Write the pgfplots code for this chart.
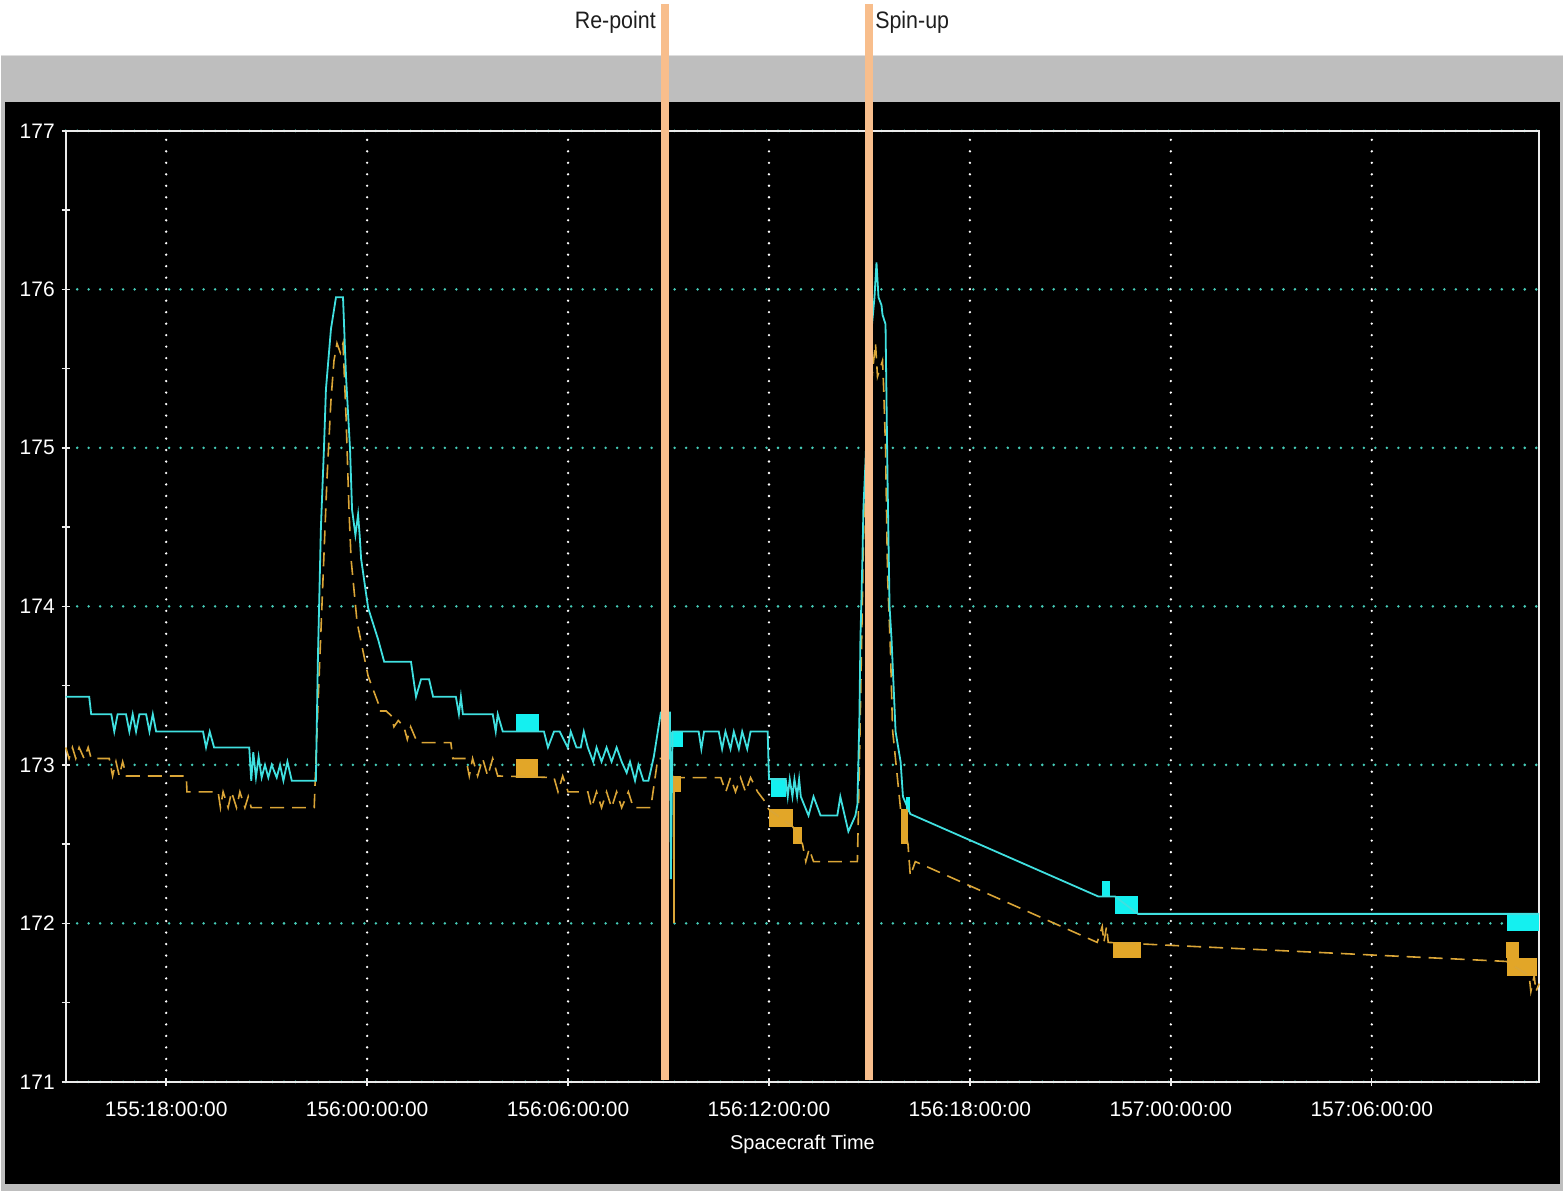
\documentclass[border=0pt]{standalone}
\usepackage{fontspec}
\setmainfont{Liberation Sans}
\usepackage{pgfplots}
\pgfplotsset{compat=1.18}
\definecolor{cyanl}{RGB}{64,224,224}
\definecolor{cyanb}{RGB}{20,240,240}
\definecolor{gold}{RGB}{218,165,55}
\definecolor{goldb}{RGB}{226,166,40}
\definecolor{gridteal}{RGB}{70,205,185}
\definecolor{framegray}{RGB}{190,190,190}
\definecolor{peach}{RGB}{248,190,140}
\definecolor{axwhite}{RGB}{235,235,235}

\begin{document}
\begin{tikzpicture}[x=1pt,y=1pt]
\fill[white] (0,0) rectangle (782,596);
\fill[framegray] (0,0) rectangle (782,568.5);
\draw[line width=0.8pt, color={rgb,255:red,222;green,222;blue,222}] (0,568.2) -- (782,568.2);
\fill[black] (2,3.5) rectangle (780.5,545);
\begin{axis}[at={(32.5pt,54.5pt)}, anchor=south west, scale only axis,
  width=737.5pt, height=476pt,
  xmin=15, xmax=59, ymin=171, ymax=177,
  xtick={18,24,30,36,42,48,54},
  xticklabels={155:18:00:00,156:00:00:00,156:06:00:00,156:12:00:00,156:18:00:00,157:00:00:00,157:06:00:00},
  ytick={171,172,173,174,175,176,177},
  minor ytick={171.5,172.5,173.5,174.5,175.5,176.5},
  tick pos=left, tick align=center,
  major tick length=4pt, minor tick length=4pt,
  tick style={axwhite, line width=0.7pt},
  axis line style={axwhite, line width=1pt},
  xmajorgrids, ymajorgrids,
  x grid style={white, line width=1.3pt, line cap=round, dash pattern=on 0pt off 5.75pt},
  y grid style={gridteal, line width=1.4pt, line cap=round, dash pattern=on 0pt off 5.75pt},
  ticklabel style={white, font=\fontsize{10.5}{12}\selectfont},
  xticklabel style={yshift=-4.5pt},
  /pgf/number format/assume math mode=true,
  xlabel={Spacecraft Time},
  xlabel style={white, font=\fontsize{10}{12}\selectfont, at={(axis description cs:0.5,0)}, anchor=center, yshift=-31.5pt},
  clip=false,
]
% cyan blocks
\addplot[fill=cyanb, draw=none] coordinates {(28.44,173.21)(29.13,173.21)(29.13,173.32)(28.44,173.32)};
\addplot[fill=cyanb, draw=none] coordinates {(33.07,173.11)(33.42,173.11)(33.42,173.21)(33.07,173.21)};
\addplot[fill=cyanb, draw=none] coordinates {(36.05,172.80)(36.50,172.80)(36.50,172.91)(36.05,172.91)};
\addplot[fill=cyanb, draw=none] coordinates {(40.08,172.70)(40.22,172.70)(40.22,172.80)(40.08,172.80)};
\addplot[fill=cyanb, draw=none] coordinates {(45.95,172.17)(46.19,172.17)(46.19,172.27)(45.95,172.27)};
\addplot[fill=cyanb, draw=none] coordinates {(46.33,172.06)(47.02,172.06)(47.02,172.17)(46.33,172.17)};
\addplot[fill=cyanb, draw=none] coordinates {(58.05,171.95)(59.00,171.95)(59.00,172.06)(58.05,172.06)};
% orange blocks
\addplot[fill=goldb, draw=none] coordinates {(28.44,172.92)(29.10,172.92)(29.10,173.04)(28.44,173.04)};
\addplot[fill=goldb, draw=none] coordinates {(33.07,172.83)(33.36,172.83)(33.36,172.93)(33.07,172.93)};
\addplot[fill=goldb, draw=none] coordinates {(35.99,172.61)(36.71,172.61)(36.71,172.72)(35.99,172.72)};
\addplot[fill=goldb, draw=none] coordinates {(36.71,172.50)(37.00,172.50)(37.00,172.61)(36.71,172.61)};
\addplot[fill=goldb, draw=none] coordinates {(39.93,172.50)(40.15,172.50)(40.15,172.72)(39.93,172.72)};
\addplot[fill=goldb, draw=none] coordinates {(46.27,171.78)(47.11,171.78)(47.11,171.88)(46.27,171.88)};
\addplot[fill=goldb, draw=none] coordinates {(58.00,171.78)(58.40,171.78)(58.40,171.88)(58.00,171.88)};
\addplot[fill=goldb, draw=none] coordinates {(58.05,171.67)(58.93,171.67)(58.93,171.78)(58.05,171.78)};
% orange series
\addplot[gold, line width=0.8pt, dash pattern=on 7pt off 4pt] coordinates {
(15.00,173.11)(15.10,173.04)(15.20,173.11)(15.30,173.04)(15.40,173.11)(15.55,173.04)(15.67,173.11)(15.76,173.04)
(16.30,173.04)(16.40,172.93)(16.50,173.02)(16.60,172.93)(16.70,173.02)(16.81,172.93)(18.60,172.93)(18.62,172.83)
(19.55,172.83)(19.62,172.73)(19.70,172.83)(19.85,172.73)(19.95,172.83)(20.10,172.73)(20.20,172.83)(20.35,172.73)
(20.45,172.80)(20.54,172.73)(22.42,172.73)(22.50,173.20)(22.65,174.00)(22.80,174.80)(22.92,175.30)(23.01,175.55)
(23.10,175.66)(23.20,175.60)(23.28,175.66)(23.37,175.20)(23.46,174.60)(23.52,174.30)(23.70,173.90)(24.03,173.56)
(24.33,173.39)(24.36,173.34)(24.57,173.34)(24.72,173.31)(24.80,173.24)(24.93,173.28)(25.10,173.24)(25.20,173.16)
(25.30,173.24)(25.46,173.16)(25.55,173.14)(26.50,173.14)(26.56,173.04)(26.95,173.04)(27.05,172.93)(27.15,173.04)
(27.30,172.93)(27.45,173.04)(27.60,172.93)(27.75,173.04)(27.90,172.93)(29.58,172.92)(29.70,172.83)(29.84,172.93)
(30.00,172.83)(30.59,172.83)(30.70,172.73)(30.85,172.83)(31.00,172.73)(31.15,172.83)(31.30,172.73)(31.45,172.83)
(31.60,172.73)(31.80,172.83)(31.95,172.73)(32.47,172.73)(32.68,173.04)(32.83,173.04)(33.10,172.93)(33.20,172.92)
(34.56,172.92)(34.71,172.83)(34.85,172.92)(35.00,172.83)(35.15,172.92)(35.30,172.83)(35.45,172.92)(35.66,172.83)
(35.84,172.78)(35.99,172.72)(36.71,172.61)(37.00,172.50)(37.10,172.39)(37.20,172.47)(37.33,172.39)(38.64,172.39)
(38.70,173.00)(38.76,173.70)(38.82,174.40)(38.90,175.00)(39.10,175.50)(39.18,175.66)(39.24,175.45)(39.39,175.55)
(39.42,175.40)(39.48,175.00)(39.54,174.20)(39.63,173.70)(39.69,173.22)(39.93,172.72)(40.15,172.50)(40.22,172.30)(40.37,172.39)
(45.80,171.88)(45.95,171.98)(46.00,171.88)(46.08,171.98)(46.13,171.88)(47.14,171.87)(58.02,171.76)(58.70,171.67)
(58.75,171.57)(58.85,171.67)(58.90,171.57)(59.00,171.62)};
\addplot[gold, line width=0.8pt] coordinates {(33.16,172.93)(33.16,172.00)};
% cyan series
\addplot[cyanl, line width=0.9pt] coordinates {
(15.00,173.43)(15.70,173.43)(15.76,173.32)(16.36,173.32)(16.45,173.21)(16.55,173.32)(16.80,173.32)(16.90,173.21)
(17.00,173.32)(17.10,173.21)(17.20,173.32)(17.40,173.32)(17.50,173.21)(17.60,173.32)(17.70,173.21)(19.10,173.21)
(19.19,173.11)(19.30,173.21)(19.43,173.11)(20.48,173.11)(20.54,172.90)(20.60,173.08)(20.68,172.92)(20.76,173.05)
(20.85,172.92)(20.95,173.00)(21.05,172.92)(21.15,173.00)(21.30,172.92)(21.40,173.00)(21.50,172.90)(21.62,173.02)
(21.75,172.90)(22.47,172.90)(22.53,173.67)(22.62,174.50)(22.71,174.99)(22.77,175.37)(22.92,175.75)(23.07,175.95)
(23.28,175.95)(23.37,175.45)(23.49,174.99)(23.55,174.61)(23.65,174.45)(23.73,174.58)(23.78,174.44)(23.82,174.30)
(24.03,173.99)(24.33,173.79)(24.51,173.65)(25.31,173.65)(25.46,173.43)(25.61,173.54)(25.85,173.54)(25.97,173.43)
(26.65,173.43)(26.74,173.32)(26.80,173.43)(26.86,173.32)(27.75,173.32)(27.84,173.21)(27.90,173.32)(28.05,173.21)
(29.28,173.21)(29.40,173.11)(29.58,173.21)(29.75,173.21)(29.99,173.11)(30.08,173.21)(30.25,173.11)(30.38,173.11)
(30.47,173.21)(30.59,173.11)(30.75,173.02)(30.85,173.11)(31.00,173.02)(31.15,173.11)(31.30,173.02)(31.45,173.11)
(31.60,173.02)(31.75,172.95)(31.85,173.02)(32.00,172.90)(32.10,173.00)(32.25,172.90)(32.40,172.90)(32.56,173.05)
(32.77,173.33)(33.04,173.33)(33.07,172.28)(33.12,173.21)(33.90,173.21)(33.98,173.10)(34.06,173.21)(34.50,173.21)
(34.60,173.10)(34.70,173.21)(34.85,173.10)(34.95,173.21)(35.10,173.10)(35.20,173.21)(35.35,173.10)(35.45,173.21)
(35.96,173.21)(36.00,172.91)(36.50,172.91)(36.56,172.80)(36.62,172.91)(36.70,172.80)(36.76,172.91)(36.84,172.80)
(36.90,172.91)(36.95,172.80)(37.18,172.68)(37.33,172.80)(37.54,172.68)(38.04,172.68)(38.13,172.80)(38.37,172.58)
(38.58,172.68)(38.64,172.75)(38.70,173.30)(38.73,173.79)(38.79,174.30)(38.82,174.62)(38.88,174.90)(39.00,175.60)
(39.15,175.95)(39.21,176.17)(39.27,175.95)(39.36,175.90)(39.39,175.84)(39.48,175.78)(39.54,174.80)(39.60,174.00)(39.66,173.79)
(39.78,173.21)(39.93,173.02)(40.00,172.80)(40.22,172.69)(45.83,172.17)(46.33,172.17)(47.02,172.06)(58.05,172.06)
(59.00,172.06)};
\end{axis}
% annotation lines and labels
\draw[peach, line width=4pt] (332.5,594) -- (332.5,55.5);
\draw[peach, line width=4pt] (434.5,594) -- (434.5,55.5);
\node[anchor=base east, inner sep=0pt, text={rgb,255:red,30;green,30;blue,30}, font=\fontsize{11.9}{14}\selectfont] at (328,581.5) {\scalebox{0.9}[1]{Re-point}};
\node[anchor=base west, inner sep=0pt, text={rgb,255:red,30;green,30;blue,30}, font=\fontsize{11.9}{14}\selectfont] at (437.5,581.5) {\scalebox{0.9}[1]{Spin-up}};
\end{tikzpicture}
\end{document}
